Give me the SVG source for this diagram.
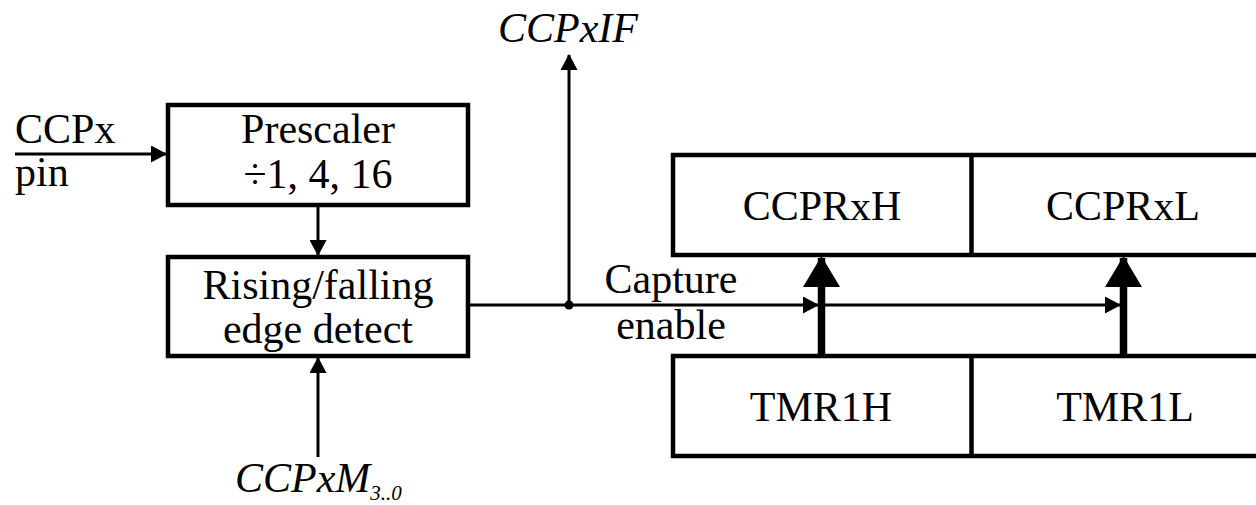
<svg xmlns="http://www.w3.org/2000/svg" width="1256" height="505" viewBox="0 0 1256 505">
  <defs>
    <marker id="arrow" markerUnits="userSpaceOnUse" viewBox="0 0 16 17" refX="15" refY="8.5" markerWidth="16" markerHeight="17" orient="auto">
      <path d="M0,0 L16,8.5 L0,17 Z" fill="#000"/>
    </marker>
    <marker id="bigArrow" markerUnits="userSpaceOnUse" viewBox="0 0 31 37" refX="29" refY="18.5" markerWidth="31" markerHeight="37" orient="auto">
      <path d="M0,0 L31,18.5 L0,37 Z" fill="#000"/>
    </marker>
  </defs>

  <rect width="1256" height="505" fill="#fff"/>

  <!-- all labels share one serif face -->
  <g style="font-family:'Liberation Serif';font-size:42px" fill="#000">

    <g id="pin-label">
      <text x="15" y="143">CCPx</text>
      <text x="15" y="186">pin</text>
    </g>

    <g id="prescaler" text-anchor="middle">
      <rect x="168" y="105" width="300" height="100" fill="#fff" stroke="#000" stroke-width="4.5"/>
      <text x="318" y="143">Prescaler</text>
      <text x="318" y="188">&#247;1, 4, 16</text>
    </g>

    <g id="edge-detect" text-anchor="middle">
      <rect x="168" y="257" width="300" height="99" fill="#fff" stroke="#000" stroke-width="4.5"/>
      <text x="318" y="299">Rising/falling</text>
      <text x="318" y="343">edge detect</text>
    </g>

    <g id="mode-label" font-style="italic">
      <text x="235" y="492">CCPxM<tspan dy="8" style="font-size:21px">3..0</tspan></text>
    </g>

    <g id="flag-label" font-style="italic">
      <text x="498" y="42">CCPxIF</text>
    </g>

    <g id="capture-label" text-anchor="middle">
      <text x="671" y="293">Capture</text>
      <text x="671" y="339">enable</text>
    </g>

    <!-- capture register pair (open to the right) -->
    <g id="ccpr" text-anchor="middle">
      <rect x="673" y="155" width="600" height="100" fill="#fff" stroke="#000" stroke-width="4.5"/>
      <line x1="971.5" y1="155" x2="971.5" y2="255" stroke="#000" stroke-width="4.5"/>
      <text x="822" y="220">CCPRxH</text>
      <text x="1123" y="220">CCPRxL</text>
    </g>

    <!-- timer register pair (open to the right) -->
    <g id="tmr1" text-anchor="middle">
      <rect x="673" y="356" width="600" height="100" fill="#fff" stroke="#000" stroke-width="4.5"/>
      <line x1="971.5" y1="356" x2="971.5" y2="456" stroke="#000" stroke-width="4.5"/>
      <text x="821" y="421">TMR1H</text>
      <text x="1125" y="421">TMR1L</text>
    </g>
  </g>

  <g id="connectors" fill="none" stroke="#000">
    <g stroke-width="3" marker-end="url(#arrow)">
      <line x1="15" y1="154" x2="166" y2="154"/>
      <line x1="318" y1="207" x2="318" y2="255"/>
      <line x1="318" y1="457" x2="318" y2="358"/>
      <line x1="569" y1="305" x2="569" y2="55"/>
      <line x1="470" y1="305" x2="818" y2="305"/>
      <line x1="818" y1="305" x2="1120" y2="305"/>
    </g>
    <circle cx="569" cy="305" r="4.5" fill="#000" stroke="none"/>
    <g stroke-width="7.5" marker-end="url(#bigArrow)">
      <line x1="821.5" y1="356" x2="821.5" y2="258"/>
      <line x1="1123.5" y1="356" x2="1123.5" y2="258"/>
    </g>
  </g>
</svg>
